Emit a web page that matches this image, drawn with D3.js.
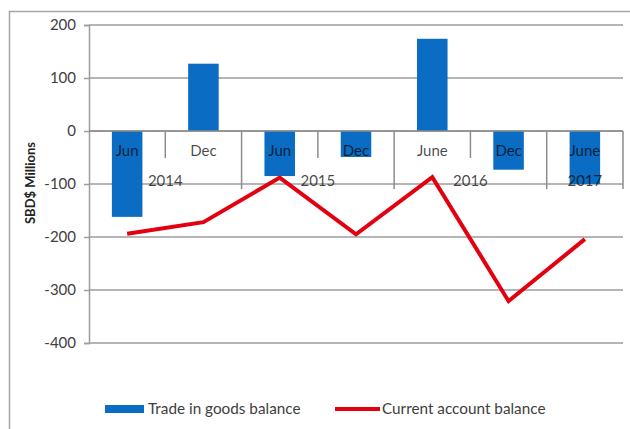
<!DOCTYPE html>
<html>
<head>
  <meta charset="utf-8">
  <title>Trade and current account balance</title>
  <script src="https://d3js.org/d3.v7.min.js"></script>
  <style>
    body { margin: 0; background: #fff; }
    text { font-family: Lato, "Open Sans", sans-serif; }
  </style>
</head>
<body>
  <script>
    // half-yearly periods
    var months = ['Jun', 'Dec', 'Jun', 'Dec', 'June', 'Dec', 'June'];
    var years = ['2014', '2015', '2016', '2017'];
    var yearSpans = [2, 2, 2, 1];   // periods per year group
    var tradeBalance = [-162, 127, -85, -49, 174, -73, -100];
    var currentAccount = [-194, -172, -88, -195, -87, -321, -204];
    var yTicks = [200, 100, 0, -100, -200, -300, -400];

    var W = 630, H = 429;
    var svg = d3.select('body').append('svg')
      .attr('width', W)
      .attr('height', H);

    // outer chart border
    svg.append('rect')
      .attr('x', 9.5).attr('y', 11.5)
      .attr('width', 640).attr('height', 500)
      .attr('fill', 'none')
      .attr('stroke', '#a6a6a6')
      .attr('stroke-width', 1.5);

    var plotL = 89, plotR = 623, plotT = 25, plotB = 343;

    var x = d3.scaleBand()
      .domain(d3.range(months.length))
      .range([plotL, plotR])
      .paddingInner(0.6)
      .paddingOuter(0.3);

    var y = d3.scaleLinear()
      .domain([-400, 200])
      .range([plotB, plotT]);

    var slotX = function(i) { return plotL + i * (plotR - plotL) / months.length; };

    // gridlines
    svg.append('g').selectAll('line')
      .data(yTicks)
      .join('line')
      .attr('x1', plotL).attr('x2', plotR)
      .attr('y1', function(d) { return y(d); })
      .attr('y2', function(d) { return y(d); })
      .attr('stroke', '#9d9d9d')
      .attr('stroke-width', 1.5);

    // y axis
    var yAxis = svg.append('g')
      .attr('transform', 'translate(' + plotL + ',0)')
      .call(d3.axisLeft(y).tickValues(yTicks).tickSize(5).tickPadding(8)
        .tickFormat(function(d) { return String(d); }));
    yAxis.select('.domain').attr('stroke', '#9d9d9d').attr('stroke-width', 1.5);
    yAxis.selectAll('.tick line').attr('stroke', '#9d9d9d').attr('stroke-width', 1.5);
    yAxis.selectAll('.tick text')
      .attr('fill', '#404040')
      .style('font-family', 'Lato, sans-serif')
      .style('font-size', '15px');

    // y axis title
    svg.append('text')
      .attr('transform', 'translate(35,183) rotate(-90)')
      .attr('text-anchor', 'middle')
      .style('font-size', '13px')
      .style('font-weight', 'bold')
      .attr('fill', '#222')
      .text('SBD$ Millions');

    // bars
    svg.append('g').selectAll('rect')
      .data(tradeBalance)
      .join('rect')
      .attr('x', function(d, i) { return x(i); })
      .attr('width', x.bandwidth())
      .attr('y', function(d) { return y(Math.max(0, d)); })
      .attr('height', function(d) { return Math.abs(y(d) - y(0)); })
      .attr('fill', '#0a6cc2');

    // category axis: separators
    var y0 = y(0);
    var yearBounds = [0];
    yearSpans.forEach(function(s) { yearBounds.push(yearBounds[yearBounds.length - 1] + s); });
    var ax = svg.append('g')
      .attr('stroke', '#8c8c8c')
      .attr('stroke-width', 1.5);
    ax.append('line')
      .attr('x1', plotL).attr('x2', plotR)
      .attr('y1', y0).attr('y2', y0);
    d3.range(1, months.length + 1).forEach(function(i) {
      var isYear = yearBounds.indexOf(i) >= 0;
      ax.append('line')
        .attr('x1', slotX(i)).attr('x2', slotX(i))
        .attr('y1', y0).attr('y2', isYear ? y0 + 58 : y0 + 27);
    });

    // month labels
    svg.append('g').selectAll('text')
      .data(months)
      .join('text')
      .attr('x', function(d, i) { return x(i) + x.bandwidth() / 2; })
      .attr('y', y0 + 25)
      .attr('text-anchor', 'middle')
      .attr('fill', '#000')
      .attr('fill-opacity', 0.72)
      .style('font-size', '15px')
      .text(function(d) { return d; });

    // year labels
    svg.append('g').selectAll('text')
      .data(years)
      .join('text')
      .attr('x', function(d, i) { return (slotX(yearBounds[i]) + slotX(yearBounds[i + 1])) / 2; })
      .attr('y', y0 + 55)
      .attr('text-anchor', 'middle')
      .attr('fill', '#000')
      .attr('fill-opacity', 0.72)
      .style('font-size', '15px')
      .text(function(d) { return d; });

    // current account line
    var line = d3.line()
      .x(function(d, i) { return x(i) + x.bandwidth() / 2; })
      .y(function(d) { return y(d); });
    svg.append('path')
      .datum(currentAccount)
      .attr('d', line)
      .attr('fill', 'none')
      .attr('stroke', '#e3000f')
      .attr('stroke-width', 4)
      .attr('stroke-linejoin', 'miter');

    // legend
    var lg = svg.append('g');
    lg.append('rect')
      .attr('x', 105).attr('y', 405)
      .attr('width', 39).attr('height', 8)
      .attr('fill', '#0a6cc2');
    lg.append('text')
      .attr('x', 148).attr('y', 414)
      .attr('fill', '#404040')
      .style('font-size', '15.3px')
      .text('Trade in goods balance');
    lg.append('line')
      .attr('x1', 335).attr('x2', 380)
      .attr('y1', 409).attr('y2', 409)
      .attr('stroke', '#e3000f')
      .attr('stroke-width', 4);
    lg.append('text')
      .attr('x', 382).attr('y', 414)
      .attr('fill', '#404040')
      .style('font-size', '15.3px')
      .text('Current account balance');
  </script>
</body>
</html>
